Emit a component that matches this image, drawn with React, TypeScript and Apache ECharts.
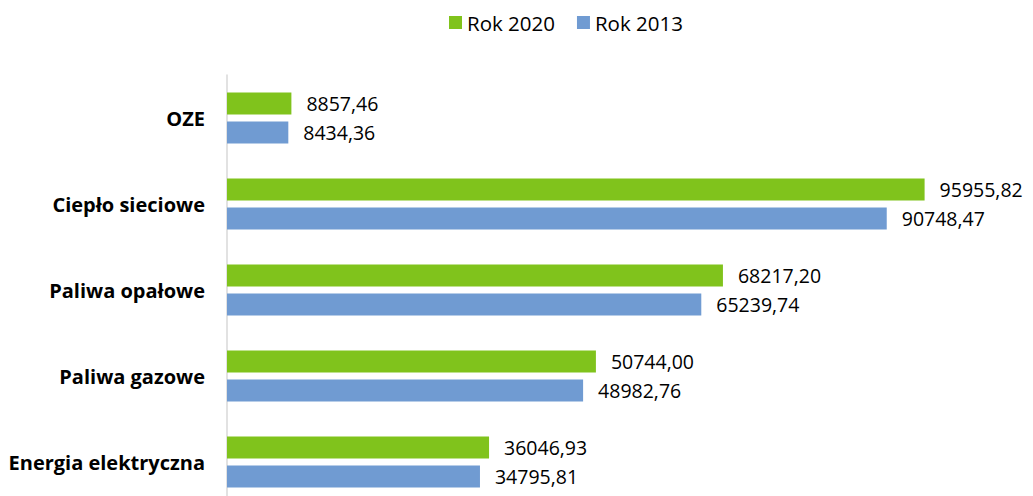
import React, { useEffect, useRef } from "react";
import * as echarts from "echarts";

const categories = ["Energia elektryczna", "Paliwa gazowe", "Paliwa opałowe", "Ciepło sieciowe", "OZE"];
const values2020 = [36046.93, 50744.0, 68217.2, 95955.82, 8857.46];
const values2013 = [34795.81, 48982.76, 65239.74, 90748.47, 8434.36];
const seriesNames = ["Rok 2020", "Rok 2013"];

const FONT = "Open Sans";

export default function App() {
  const ref = useRef<HTMLDivElement>(null);
  useEffect(() => {
    if (!ref.current) return;
    const chart = echarts.init(ref.current, undefined, { renderer: "svg" });
    const fmt = (p: any) => Number(p.value).toFixed(2).replace(".", ",");
    const label = {
      show: true,
      position: "right",
      distance: 15,
      formatter: fmt,
      color: "#000",
      fontFamily: FONT,
      fontSize: 19.5,
    };
    chart.setOption({
      animation: false,
      backgroundColor: "#fff",
      legend: {
        data: [seriesNames[0], seriesNames[1]],
        left: 444,
        top: 7,
        itemWidth: 13,
        itemHeight: 13,
        itemGap: 22,
        icon: "rect",
        textStyle: { fontFamily: FONT, fontSize: 20.5, color: "#000" },
      },
      grid: {
        left: 227,
        top: 75,
        width: 727,
        height: 430,
        containLabel: false,
        outerBoundsMode: "none",
      },
      xAxis: { type: "value", min: 0, max: 100000, show: false },
      yAxis: {
        type: "category",
        data: categories,
        axisLine: { show: true, lineStyle: { color: "#d9d9d9", width: 1.5 } },
        axisTick: { show: false },
        axisLabel: {
          fontFamily: FONT,
          fontSize: 20,
          fontWeight: "bold",
          color: "#000",
          margin: 22,
        },
        splitLine: { show: false },
      },
      series: [
        {
          name: seriesNames[0],
          type: "bar",
          data: values2020,
          barWidth: 22,
          barGap: "32%",
          itemStyle: { color: "#80c31c" },
          label,
        },
        {
          name: seriesNames[1],
          type: "bar",
          data: values2013,
          barWidth: 22,
          barGap: "32%",
          itemStyle: { color: "#709bd2" },
          label,
        },
      ],
    });
    return () => chart.dispose();
  }, []);
  return (
    <div
      ref={ref}
      style={{ position: "fixed", left: 0, top: 0, width: 1033, height: 496 }}
    />
  );
}
